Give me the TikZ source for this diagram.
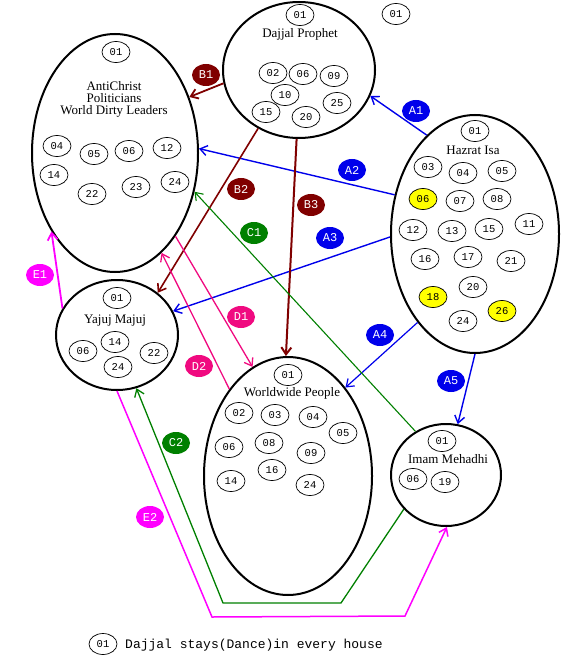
\documentclass[tikz,border=0pt]{standalone}
\usepackage{fontspec}
\setmainfont{Liberation Serif}
\newfontfamily\monof{Liberation Mono}
\usetikzlibrary{shapes.geometric,arrows.meta}
\definecolor{cA}{RGB}{0,0,235}
\definecolor{cB}{RGB}{128,0,0}
\definecolor{cC}{RGB}{0,128,0}
\definecolor{cD}{RGB}{240,10,128}
\definecolor{cE}{RGB}{255,0,255}
\definecolor{cY}{RGB}{255,255,0}
\begin{document}
\begin{tikzpicture}[x=1pt,y=-1pt,
 big/.style={ellipse,draw,line width=2pt,inner sep=0pt},
 num/.style={ellipse,draw,line width=0.7pt,minimum width=28pt,minimum height=21pt,inner sep=0pt,font=\monof\fontsize{10.5}{10.5}\selectfont},
 ylw/.style={num,fill=cY},
 lbl/.style={ellipse,minimum width=28pt,minimum height=22pt,inner sep=0pt,text=white,font=\monof\fontsize{12}{12}\selectfont},
 ttl/.style={font=\fontsize{13}{12}\selectfont,align=center,inner sep=0pt},
 arr/.style={-{Straight Barb[length=7pt,width=10pt]}},
]
\useasboundingbox (0,0) rectangle (563,660);
\fill[white] (0,0) rectangle (563,660);

% big ellipses
\node[big,minimum width=166pt,minimum height=238pt] (AC) at (115,153) {};
\node[big,minimum width=152pt,minimum height=136pt] (DP) at (299,70) {};
\node[big,minimum width=168pt,minimum height=238pt] (HI) at (475,234) {};
\node[big,minimum width=122pt,minimum height=110pt] (YM) at (117,335) {};
\node[big,minimum width=168pt,minimum height=238pt] (WP) at (288,476) {};
\node[big,minimum width=110pt,minimum height=102pt] (IM) at (446,475) {};

% Dajjal Prophet
\node[num] (dp01) at (300,15) {01};
\node[ttl] (dpT) at (300,34) {Dajjal Prophet};
\node[num] (dp02) at (273,73) {02};
\node[num] (dp06) at (303,74) {06};
\node[num] (dp09) at (334,76) {09};
\node[num] (dp10) at (285,95) {10};
\node[num] (dp15) at (266,112) {15};
\node[num] (dp20) at (306,117) {20};
\node[num] (dp25) at (337,103) {25};
\node[num] (x01) at (396,14) {01};

% AntiChrist
\node[num] (ac01) at (116,52) {01};
\node[ttl] (acT) at (114,99) {AntiChrist\\Politicians\\World Dirty Leaders};
\node[num] (ac04) at (57,146) {04};
\node[num] (ac05) at (94,154) {05};
\node[num] (ac06) at (129,151) {06};
\node[num] (ac12) at (167,148) {12};
\node[num] (ac14) at (54,175) {14};
\node[num] (ac22) at (92,194) {22};
\node[num] (ac23) at (136,187) {23};
\node[num] (ac24) at (175,182) {24};

% Hazrat Isa
\node[num] (hi01) at (475,131) {01};
\node[ttl] (hiT) at (473,150) {Hazrat Isa};
\node[num] (hi03) at (428,167) {03};
\node[num] (hi04) at (463,173) {04};
\node[num] (hi05) at (502,171) {05};
\node[ylw] (hi06) at (423,199) {06};
\node[num] (hi07) at (460,201) {07};
\node[num] (hi08) at (497,199) {08};
\node[num] (hi12) at (413,230) {12};
\node[num] (hi13) at (452,231) {13};
\node[num] (hi15) at (489,229) {15};
\node[num] (hi11) at (529,224) {11};
\node[num] (hi16) at (425,259) {16};
\node[num] (hi17) at (468,257) {17};
\node[num] (hi21) at (511,261) {21};
\node[num] (hi20) at (473,287) {20};
\node[ylw] (hi18) at (433,297) {18};
\node[ylw] (hi26) at (502,311) {26};
\node[num] (hi24) at (463,321) {24};

% Yajuj Majuj
\node[num] (ym01) at (117,298) {01};
\node[ttl] (ymT) at (115,321) {Yajuj Majuj};
\node[num] (ym14) at (115,342) {14};
\node[num] (ym06) at (83,351) {06};
\node[num] (ym22) at (154,353) {22};
\node[num] (ym24) at (118,367) {24};

% Worldwide People
\node[num] (wp01) at (288,375) {01};
\node[ttl] (wpT) at (292,393) {Worldwide People};
\node[num] (wp02) at (239,413) {02};
\node[num] (wp03) at (275,415) {03};
\node[num] (wp04) at (313,417) {04};
\node[num] (wp05) at (343,433) {05};
\node[num] (wp06) at (229,447) {06};
\node[num] (wp08) at (269,443) {08};
\node[num] (wp09) at (311,453) {09};
\node[num] (wp16) at (272,470) {16};
\node[num] (wp14) at (231,481) {14};
\node[num] (wp24) at (310,485) {24};

% Imam Mehadhi
\node[num] (im01) at (442,441) {01};
\node[ttl] (imT) at (448,459) {Imam Mehadhi};
\node[num] (im06) at (413,479) {06};
\node[num] (im19) at (445,482) {19};

% connectors
\draw[arr,cA,line width=1.4pt] (HI.116.6) -- (DP.-20.9);
\draw[arr,cA,line width=1.4pt] (HI.154) -- (AC.3.4);
\draw[arr,cA,line width=1.4pt] (HI.182) -- (YM.23.1);
\draw[arr,cA,line width=1.2pt] (HI.237.5) -- (WP.57.4);
\draw[arr,cA,line width=1.4pt] (HI.-90) -- (IM.77);
\draw[arr,cB,line width=1.8pt] (DP.190.6) -- (AC.37);
\draw[arr,cB,line width=1.6pt] (DP.235.8) -- (YM.46.4);
\draw[arr,cB,line width=2pt] (DP.-92) -- (WP.91);
\draw[arr,cC,line width=1.1pt] (IM.125.5) -- (AC.-26);
\coordinate (c2a) at (341,603);
\coordinate (c2b) at (223,603);
\draw[arr,cC,line width=1.3pt] (IM.219.5) -- (c2a) -- (c2b) -- (YM.-70.3);
\draw[arr,cD,line width=1.3pt] (AC.-54) -- (WP.108.1);
\draw[arr,cD,line width=1.3pt] (WP.124.4) -- (AC.-65.5);
\draw[arr,cE,line width=1.8pt] (YM.154.7) -- (AC.231.9);
\coordinate (e2a) at (212,617);
\coordinate (e2b) at (405,616);
\draw[arr,cE,line width=1.5pt] (YM.-90) -- (e2a) -- (e2b) -- (IM.-89);

% labels
\node[lbl,fill=cA] (lA1) at (416,111) {A1};
\node[lbl,fill=cA] (lA2) at (352,170) {A2};
\node[lbl,fill=cA] (lA3) at (330,238) {A3};
\node[lbl,fill=cA] (lA4) at (380,335) {A4};
\node[lbl,fill=cA] (lA5) at (451,381) {A5};
\node[lbl,fill=cB] (lB1) at (206,75) {B1};
\node[lbl,fill=cB] (lB2) at (241,189) {B2};
\node[lbl,fill=cB] (lB3) at (311,205) {B3};
\node[lbl,fill=cC] (lC1) at (254,233) {C1};
\node[lbl,fill=cC] (lC2) at (176,443) {C2};
\node[lbl,fill=cD] (lD1) at (241,317) {D1};
\node[lbl,fill=cD] (lD2) at (199,366) {D2};
\node[lbl,fill=cE] (lE1) at (40,275) {E1};
\node[lbl,fill=cE] (lE2) at (150,517) {E2};

% legend
\node[num] (L01) at (103,644) {01};
\node[anchor=base west,inner sep=0pt,font=\monof\fontsize{13}{13}\selectfont] (Ltxt) at (125,648.5) {Dajjal stays(Dance)in every house};
\end{tikzpicture}
\end{document}
